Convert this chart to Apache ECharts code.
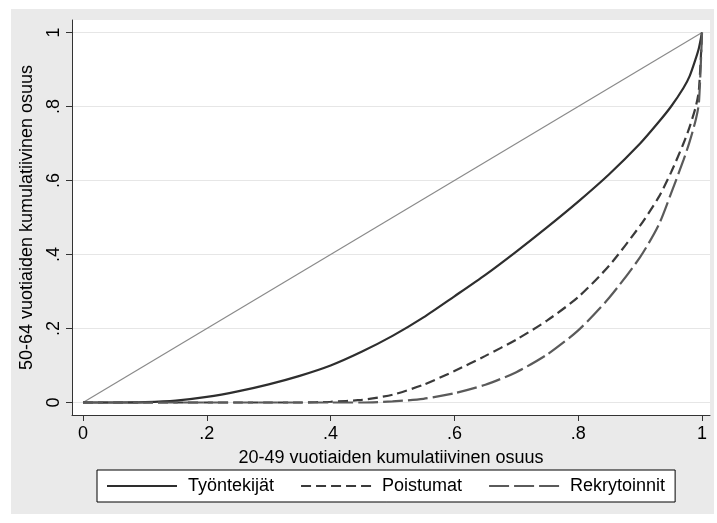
<!DOCTYPE html>
<html>
<head>
<meta charset="utf-8">
<script src="https://cdn.jsdelivr.net/npm/echarts@6/dist/echarts.min.js"></script>
<style>
  html, body { margin: 0; padding: 0; background: #fff; }
  #wrap { position: relative; width: 717px; height: 523px; }
  #panel { position: absolute; left: 11px; top: 9px; width: 703px; height: 505px; background: #eaeaea; }
  #chart { position: absolute; left: 0; top: 0; width: 717px; height: 523px; }
</style>
</head>
<body>
<div id="wrap">
  <div id="panel"></div>
  <div id="chart"></div>
</div>
<script>
// 20-49 vuotiaiden kumulatiivinen osuus (x)
const shareX = [0, 0.05, 0.1, 0.15, 0.2, 0.25, 0.3, 0.35, 0.4, 0.45, 0.5, 0.55, 0.6,
  0.65, 0.7, 0.75, 0.8, 0.85, 0.9, 0.93, 0.95, 0.97, 0.98, 0.99, 0.995, 1];

// 50-64 vuotiaiden kumulatiivinen osuus (y)
const tyontekijat = [0, 0, 0.001, 0.005, 0.015, 0.03, 0.049, 0.072, 0.1, 0.137, 0.18, 0.23, 0.287,
  0.345, 0.408, 0.474, 0.543, 0.617, 0.70, 0.758, 0.80, 0.85, 0.882, 0.93, 0.958, 1];
const poistumat = [0, 0, 0, 0, 0, 0, 0, 0, 0.002, 0.007, 0.021, 0.048, 0.085,
  0.126, 0.17, 0.222, 0.285, 0.37, 0.478, 0.555, 0.622, 0.70, 0.745, 0.80, 0.845, 1];
const rekrytoinnit = [0, 0, 0, 0, 0, 0, 0, 0, 0, 0, 0.003, 0.01, 0.025,
  0.048, 0.082, 0.13, 0.195, 0.283, 0.393, 0.48, 0.565, 0.655, 0.705, 0.765, 0.81, 1];

// tasa-arvosuora
const diagX = [0, 1];
const diagY = [0, 1];

const tickValues = [0, 0.2, 0.4, 0.6, 0.8, 1];
const tickLabels = ['0', '.2', '.4', '.6', '.8', '1'];

const seriesNames = ['Työntekijät', 'Poistumat', 'Rekrytoinnit'];

const FONT = 'Liberation Sans, Arial, Helvetica, sans-serif';

const toPairs = (xs, ys) => xs.map((x, i) => [x, ys[i]]);
const fmt = (v) => {
  const i = tickValues.findIndex(t => Math.abs(t - v) < 1e-9);
  return i >= 0 ? tickLabels[i] : '';
};

const chart = echarts.init(document.getElementById('chart'));

const option = {
  animation: false,
  textStyle: { fontFamily: FONT },
  grid: {
    left: 72, right: 7, top: 20, bottom: 108,
    show: true, backgroundColor: '#fff', borderWidth: 0
  },
  xAxis: {
    type: 'value',
    min: -0.0178, max: 1.0129,
    name: '20-49 vuotiaiden kumulatiivinen osuus',
    nameLocation: 'middle',
    nameGap: 34,
    nameTextStyle: { fontSize: 18, color: '#000', fontFamily: FONT },
    axisLine: { show: true, onZero: false, lineStyle: { color: '#333', width: 1 } },
    axisTick: { show: true, inside: false, length: 6, customValues: tickValues, lineStyle: { color: '#333' } },
    axisLabel: { customValues: tickValues, formatter: fmt, fontSize: 18, color: '#000', margin: 10, fontFamily: FONT },
    splitLine: { show: false }
  },
  yAxis: {
    type: 'value',
    min: -0.0338, max: 1.0338,
    name: '50-64 vuotiaiden kumulatiivinen osuus',
    nameLocation: 'middle',
    nameGap: 36,
    nameTextStyle: { fontSize: 18, color: '#000', fontFamily: FONT },
    axisLine: { show: true, onZero: false, lineStyle: { color: '#333', width: 1 } },
    axisTick: { show: true, inside: false, length: 6, customValues: tickValues, lineStyle: { color: '#333' } },
    axisLabel: { customValues: tickValues, formatter: fmt, fontSize: 18, color: '#000', margin: 9, rotate: 90, fontFamily: FONT },
    splitLine: { show: true, lineStyle: { color: '#e6e6e6', width: 1.2 } }
  },
  legend: {
    data: seriesNames,
    left: 97, top: 470,
    padding: [7, 10, 7, 9],
    itemWidth: 70, itemHeight: 14, itemGap: 26,
    backgroundColor: '#fff',
    borderColor: '#000', borderWidth: 1, borderRadius: 0,
    itemStyle: { opacity: 0 },
    textStyle: { fontSize: 18, color: '#000', fontFamily: FONT, padding: [0, 0, 0, 6] }
  },
  series: [
    {
      name: 'diag', type: 'line', data: toPairs(diagX, diagY),
      symbol: 'none', silent: true,
      lineStyle: { color: '#8a8a8a', width: 1.2 }
    },
    {
      name: seriesNames[0], type: 'line', data: toPairs(shareX, tyontekijat),
      symbol: 'none', smooth: 0.25,
      lineStyle: { color: '#2e2e2e', width: 2.2, type: 'solid' }
    },
    {
      name: seriesNames[1], type: 'line', data: toPairs(shareX, poistumat),
      symbol: 'none', smooth: 0.25,
      lineStyle: { color: '#3a3a3a', width: 2.2, type: [10, 5] }
    },
    {
      name: seriesNames[2], type: 'line', data: toPairs(shareX, rekrytoinnit),
      symbol: 'none', smooth: 0.25,
      lineStyle: { color: '#5a5a5a', width: 2.2, type: [20, 5] }
    }
  ]
};

chart.setOption(option);
</script>
</body>
</html>
